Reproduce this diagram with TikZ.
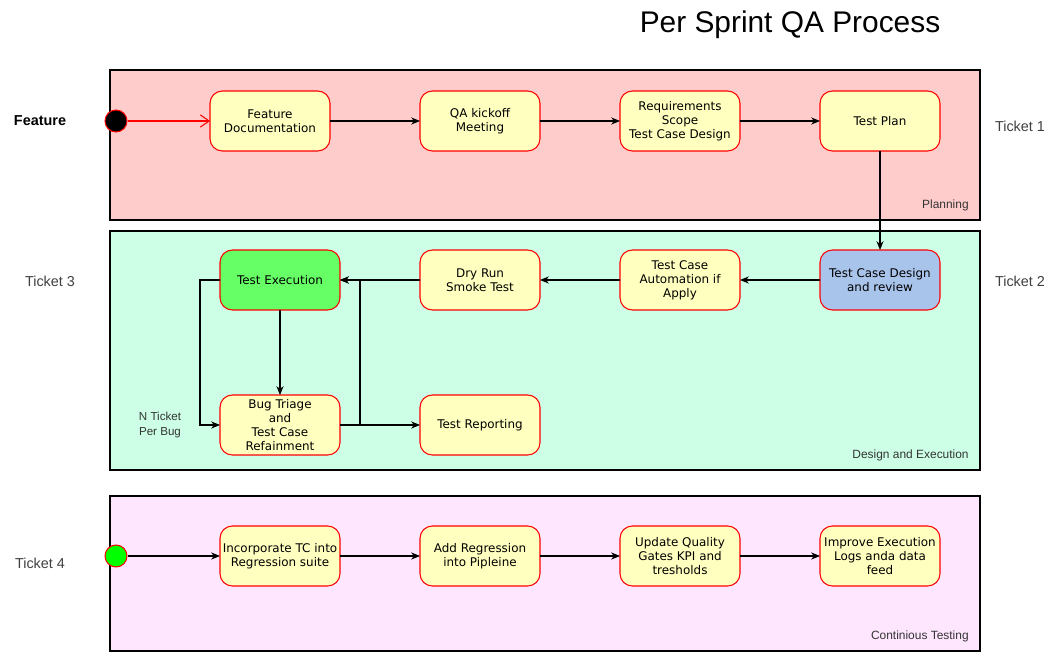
\documentclass[tikz,border=0pt]{standalone}
\usepackage{fontspec}
\setmainfont{Liberation Sans}
\newfontfamily\boxfont{DejaVu Sans}
\usepackage{tikz}
\usetikzlibrary{arrows.meta,positioning,calc}
\definecolor{planbg}{HTML}{FFCCCC}
\definecolor{execbg}{HTML}{CCFFE6}
\definecolor{ctbg}{HTML}{FFE6FF}
\definecolor{boxbg}{HTML}{FFFFC0}
\definecolor{greenbox}{HTML}{66FF66}
\definecolor{bluebox}{HTML}{A9C4EB}
\begin{document}
\begin{tikzpicture}[
  x=0.02cm,y=-0.02cm,
  lane/.style={draw=black,line width=0.6pt},
  box/.style={draw=red,line width=0.6pt,rounded corners=7pt,fill=boxbg,align=center,
              minimum width=2.4cm,minimum height=1.2cm,inner sep=1pt,outer sep=0pt,
              font=\boxfont\fontsize{6.8}{8}\selectfont},
  flow/.style={-{Stealth[length=5pt,width=4pt,inset=1.5pt]},line width=0.6pt},
  start/.style={circle,draw=red,line width=0.6pt,minimum size=0.44cm,inner sep=0pt},
  ticket/.style={font=\fontsize{8.2}{10}\selectfont,text=black!75},
  lanelbl/.style={font=\fontsize{6.8}{8}\selectfont,anchor=east,inner sep=0pt,text=black!80}]
\useasboundingbox (0,0) rectangle (1061,652);
% lanes
\draw[lane,fill=planbg] (110,70) rectangle (980,220);
\draw[lane,fill=execbg] (110,231) rectangle (980,470);
\draw[lane,fill=ctbg] (110,496) rectangle (980,651);
\node[lanelbl] (lplan) at (969,205) {Planning};
\node[lanelbl] (lexec) at (969,455) {Design and Execution};
\node[lanelbl] (lct) at (969,636) {Continious Testing};
\node[font=\fontsize{17}{20}\selectfont] (title) at (790,25) {Per Sprint QA Process};
% labels
\node[font=\bfseries\fontsize{8.2}{10}\selectfont] (feat) at (40,121) {Feature};
\node[ticket] (t1) at (1020,126) {Ticket 1};
\node[ticket] (t2) at (1020,281) {Ticket 2};
\node[ticket] (t3) at (50,281) {Ticket 3};
\node[ticket] (t4) at (40,563) {Ticket 4};
\node[font=\fontsize{6.6}{8.2}\selectfont,align=center,text=black!80] (nper) at (160,425) {N Ticket\\Per Bug};
% planning
\node[start,fill=black] (s1) at (116,121) {};
\node[box] (fdoc) at (270,121) {Feature\\Documentation};
\node[box] (kick) at (480,121) {QA kickoff\\Meeting};
\node[box] (req) at (680,121) {Requirements\\Scope\\Test Case Design};
\node[box] (tplan) at (880,121) {Test Plan};
\draw[-{Straight Barb[length=5pt,width=7pt]},red,line width=0.6pt] (s1) -- (fdoc);
\draw[flow] (fdoc) -- (kick);
\draw[flow] (kick) -- (req);
\draw[flow] (req) -- (tplan);
% design and execution
\node[box,fill=bluebox] (tcd) at (880,280) {Test Case Design\\and review};
\node[box] (auto) at (680,280) {Test Case\\Automation if\\Apply};
\node[box] (dry) at (480,280) {Dry Run\\Smoke Test};
\node[box,fill=greenbox] (exec) at (280,280) {Test Execution};
\node[box] (bug) at (280,425) {Bug Triage\\and\\Test Case\\Refainment};
\node[box] (rep) at (480,425) {Test Reporting};
\draw[flow] (tplan) -- (tcd);
\draw[flow] (tcd) -- (auto);
\draw[flow] (auto) -- (dry);
\draw[flow] (dry) -- (exec);
\draw[flow] (exec) -- (bug);
\draw[flow] (exec.west) -- ++(-20,0) |- (bug.west);
\draw[flow] (bug) -- (rep);
\draw[flow] (bug.east) -- ++(20,0) |- (exec.east);
% continuous testing
\node[start,fill=green] (s2) at (116,556) {};
\node[box] (inc) at (280,556) {Incorporate TC into\\Regression suite};
\node[box] (addr) at (480,556) {Add Regression\\into Pipleine};
\node[box] (gate) at (680,556) {Update Quality\\Gates KPI and\\tresholds};
\node[box] (logs) at (880,556) {Improve Execution\\Logs anda data\\feed};
\draw[flow] (s2) -- (inc);
\draw[flow] (inc) -- (addr);
\draw[flow] (addr) -- (gate);
\draw[flow] (gate) -- (logs);
\end{tikzpicture}
\end{document}
